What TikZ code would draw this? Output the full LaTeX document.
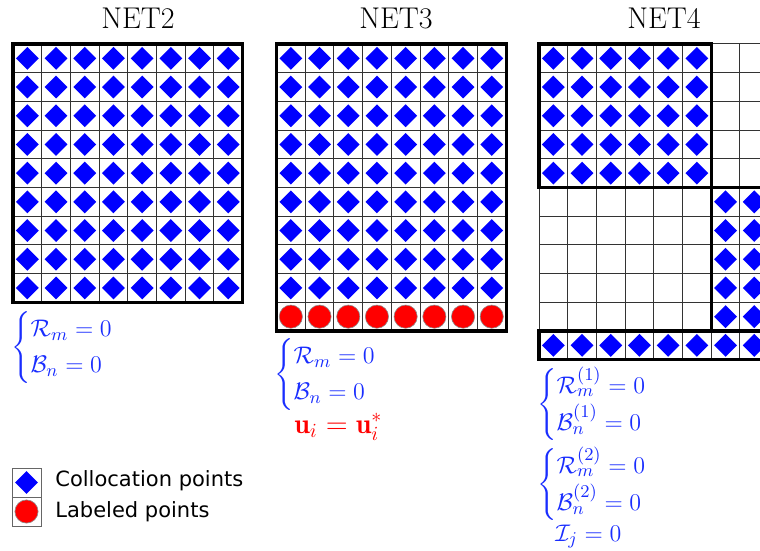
\documentclass[tikz,border=0pt]{standalone}
\usepackage{amsmath}
\usepackage{fontspec}
\newfontfamily\legendfont{DejaVu Sans}
\usepackage{tikz}
\usetikzlibrary{shapes.geometric, positioning}
\definecolor{ptblue}{RGB}{0, 0, 255}
\definecolor{eqblue}{RGB}{25, 45, 255}
\definecolor{ptred}{RGB}{255, 0, 0}
\newcommand{\cellw}{28.7}

\begin{document}
\begin{tikzpicture}[
    x=0.5pt, y=-0.5pt,
    gridline/.style={draw=black!80, line width=0.5pt},
    frameline/.style={draw=black, line width=1.6pt},
    colpt/.style={diamond, fill=ptblue, inner sep=0pt, minimum size=11.6pt},
    labpt/.style={circle, fill=ptred, draw=black!45, line width=0.3pt, inner sep=0pt, minimum size=11.6pt},
    legbox/.style={draw=black!60, line width=0.5pt},
    nettitle/.style={anchor=base, inner sep=0pt, font=\fontsize{15}{18}\selectfont},
    eqn/.style={anchor=north west, inner sep=0pt, text=eqblue, font=\fontsize{12.5}{15}\selectfont},
    legtext/.style={anchor=west, inner sep=0pt, font=\legendfont\fontsize{10.5}{12}\selectfont}
  ]
  \clip (0,0) rectangle (760,551);

  % titles
  \node[nettitle] (t2) at (138,29) {NET2};
  \node[nettitle] (t3) at (396,29) {NET3};
  \node[nettitle] (t4) at (664,29) {NET4};

  % NET2: 8 x 9 collocation points
  \begin{scope}[shift={(13,44)}]
    \foreach \i in {1,...,7} \draw[gridline] (\i*\cellw,0) -- (\i*\cellw,9*\cellw);
    \foreach \j in {1,...,8} \draw[gridline] (0,\j*\cellw) -- (8*\cellw,\j*\cellw);
    \foreach \i in {0,...,7}
      \foreach \j in {0,...,8}
        \node[colpt] (a-\i-\j) at ({(\i+0.5)*\cellw},{(\j+0.5)*\cellw}) {};
    \draw[frameline] (0,0) rectangle (8*\cellw,9*\cellw);
  \end{scope}

  % NET3: collocation + labeled row
  \begin{scope}[shift={(276.5,44)}]
    \foreach \i in {1,...,7} \draw[gridline] (\i*\cellw,0) -- (\i*\cellw,10*\cellw);
    \foreach \j in {1,...,9} \draw[gridline] (0,\j*\cellw) -- (8*\cellw,\j*\cellw);
    \foreach \i in {0,...,7} {
      \foreach \j in {0,...,8}
        \node[colpt] (b-\i-\j) at ({(\i+0.5)*\cellw},{(\j+0.5)*\cellw}) {};
      \node[labpt] (c-\i) at ({(\i+0.5)*\cellw},{9.5*\cellw}) {};
    }
    \draw[frameline] (0,0) rectangle (8*\cellw,10*\cellw);
  \end{scope}

  % NET4: two subdomains + interface row
  \begin{scope}[shift={(539,44)}]
    \foreach \i in {1,...,8} \draw[gridline] (\i*\cellw,0) -- (\i*\cellw,11*\cellw);
    \foreach \j in {0,...,10} \draw[gridline] (0,\j*\cellw) -- (9*\cellw,\j*\cellw);
    \draw[gridline] (0,0) -- (0,11*\cellw);
    \foreach \i in {0,...,5}
      \foreach \j in {0,...,4}
        \node[colpt] (d-\i-\j) at ({(\i+0.5)*\cellw},{(\j+0.5)*\cellw}) {};
    \foreach \i in {6,7}
      \foreach \j in {5,...,9}
        \node[colpt] (e-\i-\j) at ({(\i+0.5)*\cellw},{(\j+0.5)*\cellw}) {};
    \foreach \i in {0,...,7}
      \node[colpt] (f-\i) at ({(\i+0.5)*\cellw},{10.5*\cellw}) {};
    \draw[frameline] (0,0) rectangle (6*\cellw,5*\cellw);
    \draw[frameline] (6*\cellw,5*\cellw) rectangle (10*\cellw,10*\cellw);
    \draw[frameline] (0,10*\cellw) rectangle (10*\cellw,11*\cellw);
  \end{scope}

  % equations
  \node[eqn] (eq2) at (11,311) {$\begin{cases}\mathcal{R}_m=0\\ \mathcal{B}_n=0\end{cases}$};
  \node[eqn] (eq3) at (274,338) {$\begin{cases}\mathcal{R}_m=0\\ \mathcal{B}_n=0\end{cases}$};
  \node[eqn, anchor=base west, text=ptred, font=\fontsize{14}{16}\selectfont] (lab3) at (294,433) {$\mathbf{u}_i=\mathbf{u}_i^{*}$};
  \node[eqn] (eq4a) at (537,367) {$\begin{cases}\mathcal{R}_m^{(1)}=0\\ \mathcal{B}_n^{(1)}=0\end{cases}$};
  \node[eqn] (eq4b) at (537,447) {$\begin{cases}\mathcal{R}_m^{(2)}=0\\ \mathcal{B}_n^{(2)}=0\end{cases}$};
  \node[eqn, anchor=base west] (eq4c) at (555,541) {$\mathcal{I}_j=0$};

  % legend
  \draw[legbox] (12,468) rectangle (41,497);
  \draw[legbox] (12,497) rectangle (41,526);
  \node[colpt] (legd) at (26.5,482.5) {};
  \node[labpt] (legc) at (26.5,511.5) {};
  \node[legtext] (legdt) at (55,481) {Collocation points};
  \node[legtext] (legct) at (55,512) {Labeled points};
\end{tikzpicture}
\end{document}
